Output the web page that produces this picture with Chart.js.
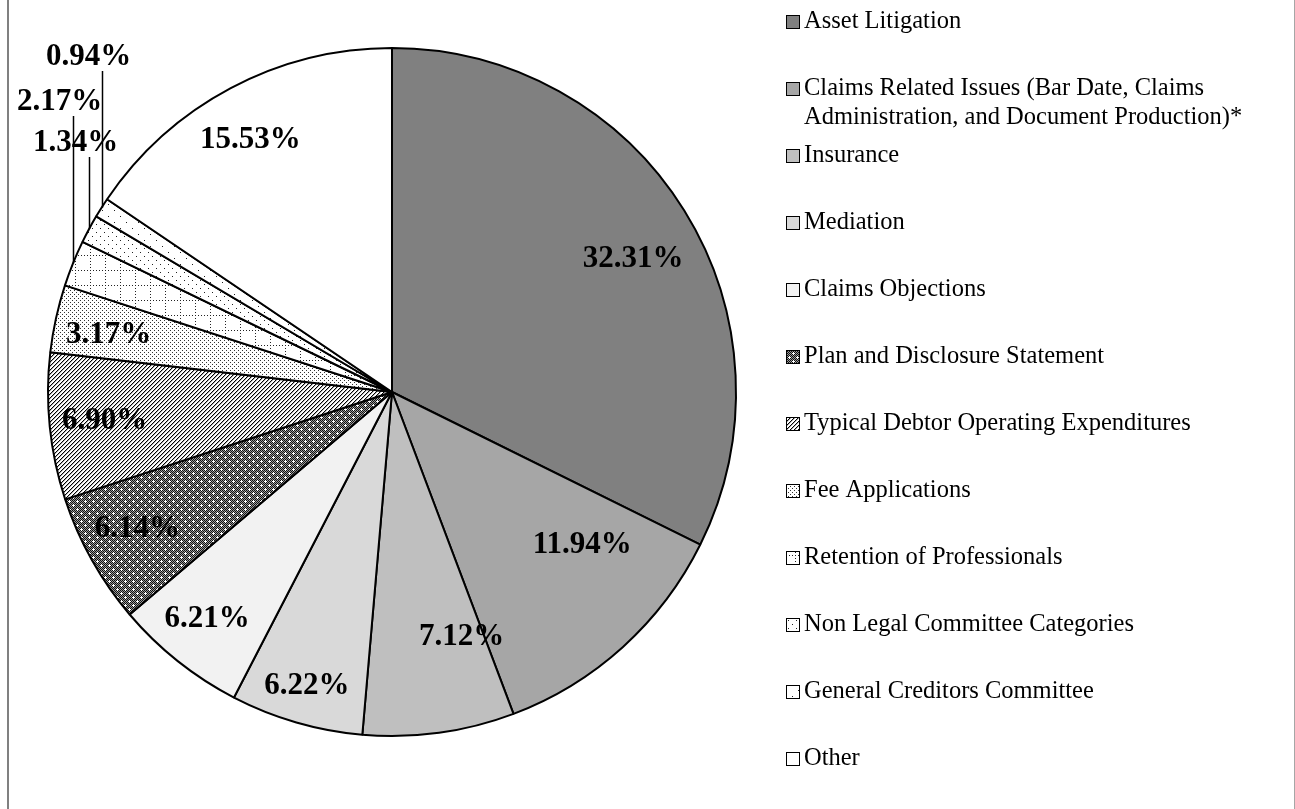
<!DOCTYPE html>
<html>
<head>
<meta charset="utf-8">
<script src="https://cdn.jsdelivr.net/npm/chart.js@4.4.1/dist/chart.umd.min.js"></script>
<style>
  html, body { margin: 0; padding: 0; background: #fff; overflow: hidden; }
  #wrap { position: relative; width: 1295px; height: 809px; }
  /* the thin grey frame around the chart object */
  #frame { position: absolute; left: 7px; top: 0; width: 1288px; height: 809px; box-sizing: border-box;
           border-left: 2px solid #808080; border-right: 1px solid #a6a6a6; pointer-events: none; }
</style>
</head>
<body>
<div id="wrap">
  <canvas id="myChart" width="1295" height="809"></canvas>
  <div id="frame"></div>
</div>
<script>
// slice order = legend order, clockwise from 12 o'clock
const categories = [
  'Asset Litigation',
  ['Claims Related Issues (Bar Date, Claims', 'Administration, and Document Production)*'],
  'Insurance',
  'Mediation',
  'Claims Objections',
  'Plan and Disclosure Statement',
  'Typical Debtor Operating Expenditures',
  'Fee Applications',
  'Retention of Professionals',
  'Non Legal Committee Categories',
  'General Creditors Committee',
  'Other'
]
const shares = [32.31, 11.94, 7.12, 6.22, 6.21, 6.14, 6.90, 3.17, 2.17, 1.34, 0.94, 15.53]
const shareLabels = shares.map(v => v.toFixed(2) + '%')

// small repeating tiles for the black & white fills
const tile = (w, h, paint) => {
  const c = document.createElement('canvas')
  c.width = w; c.height = h
  const g = c.getContext('2d')
  paint(g)
  return g.createPattern(c, 'repeat')
}
const dotTile = (w, h, pts, ink = '#222') => tile(w, h, g => {
  g.fillStyle = '#fff'; g.fillRect(0, 0, w, h)
  g.fillStyle = ink
  pts.forEach(([x, y]) => g.fillRect(x, y, 1, 1))
})

// dark checker with white specks
const planFill = tile(8, 8, g => {
  for (let y = 0; y < 8; y++) for (let x = 0; x < 8; x++) {
    g.fillStyle = (x + y) % 2 ? '#9a9a9a' : '#101010'
    g.fillRect(x, y, 1, 1)
  }
  g.fillStyle = '#fff'
  ;[[1, 1], [5, 5]].forEach(([x, y]) => { g.fillRect(x - 1, y, 3, 1); g.fillRect(x, y - 1, 1, 3) })
})
// thin diagonal hatch  ////
const hatchFill = tile(4, 4, g => {
  g.fillStyle = '#fff'; g.fillRect(0, 0, 4, 4)
  for (let i = 0; i < 4; i++) {
    g.fillStyle = '#000'; g.fillRect(i, 3 - i, 1, 1)
    g.fillStyle = '#b0b0b0'; g.fillRect((i + 1) % 4, 3 - i, 1, 1)
  }
})
const feeFill = dotTile(4, 4, [[0, 0], [2, 2]], '#333')
// dotted grid
const gridFill = dotTile(15, 15, [[0, 0], [3, 0], [6, 0], [9, 0], [12, 0], [0, 3], [0, 6], [0, 9], [0, 12]])
const nonLegalFill = dotTile(8, 8, [[0, 0], [4, 4]])
const creditorsFill = dotTile(12, 12, [[0, 0], [6, 6]])

const fills = ['#808080', '#a6a6a6', '#bfbfbf', '#d9d9d9', '#f2f2f2', planFill, hatchFill,
               feeFill, gridFill, nonLegalFill, creditorsFill, '#ffffff']

// percentage labels inside the slices, small ones pulled out with a vertical leader
const sliceLabels = {
  id: 'sliceLabels',
  afterDatasetsDraw(chart, args, o) {
    const ctx = chart.ctx
    const arcs = chart.getDatasetMeta(0).data
    ctx.save()
    ctx.font = o.font
    ctx.fillStyle = '#000'
    ctx.textAlign = 'center'
    ctx.textBaseline = 'middle'
    arcs.forEach((arc, i) => {
      const {x, y, startAngle, endAngle, outerRadius} =
        arc.getProps(['x', 'y', 'startAngle', 'endAngle', 'outerRadius'], true)
      const mid = (startAngle + endAngle) / 2
      const text = shareLabels[i]
      const c = o.callouts[i]
      if (c) {
        const ex = Math.round(x + outerRadius * Math.cos(mid)) + 0.5
        const ey = y + outerRadius * Math.sin(mid)
        ctx.strokeStyle = '#000'
        ctx.lineWidth = 1.5
        ctx.beginPath()
        ctx.moveTo(ex, ey)
        ctx.lineTo(ex, c + 14)
        ctx.stroke()
        ctx.fillText(text, ex - 14, c)
        return
      }
      const a = mid + (o.turn[i] || 0) * Math.PI / 180
      const r = outerRadius * (o.reach[i] || 0.84)
      ctx.fillText(text, x + r * Math.cos(a), y + r * Math.sin(a))
    })
    ctx.restore()
  }
}

// legend on the right, drawn from the chart's own labels and fills
const sideLegend = {
  id: 'sideLegend',
  afterDraw(chart, args, o) {
    const ctx = chart.ctx
    const ds = chart.data.datasets[0]
    ctx.save()
    ctx.font = o.font
    ctx.textBaseline = 'middle'
    ctx.textAlign = 'left'
    chart.data.labels.forEach((lab, i) => {
      const y = o.top + i * o.step
      const by = Math.round(y - o.box / 2)
      ctx.fillStyle = ds.backgroundColor[i]
      ctx.fillRect(o.x, by, o.box, o.box)
      ctx.strokeStyle = '#000'
      ctx.lineWidth = 1
      ctx.strokeRect(o.x + 0.5, by + 0.5, o.box - 1, o.box - 1)
      ctx.fillStyle = '#000'
      ;[].concat(lab).forEach((line, k) => ctx.fillText(line, o.x + o.box + 4, y + k * o.lineGap))
    })
    ctx.restore()
  }
}

new Chart(document.getElementById('myChart'), {
  type: 'pie',
  data: {
    labels: categories,
    datasets: [{
      data: shares,
      backgroundColor: fills,
      borderColor: '#000',
      borderWidth: 2,
      radius: 344,
      hoverOffset: 0
    }]
  },
  options: {
    responsive: false,
    animation: false,
    events: [],
    layout: { padding: { left: 0, top: 0, right: 511, bottom: 25 } },
    plugins: {
      legend: { display: false },
      tooltip: { enabled: false },
      sliceLabels: {
        font: 'bold 31px "Liberation Serif", "Times New Roman", serif',
        reach: [0.80, 0.71, 0.74, 0.89, 0.85, 0.84, 0.84, 0.84, 0, 0, 0, 0.84],
        turn: [3, -9, -8, 0, 0.7, 1, 0, -1, 0, 0, 0, -1.4],
        callouts: {8: 102, 9: 143, 10: 57}
      },
      sideLegend: {
        font: '24.5px "Liberation Serif", "Times New Roman", serif',
        x: 786, top: 22, step: 67, box: 14, lineGap: 29
      }
    }
  },
  plugins: [sliceLabels, sideLegend]
})
</script>
</body>
</html>
